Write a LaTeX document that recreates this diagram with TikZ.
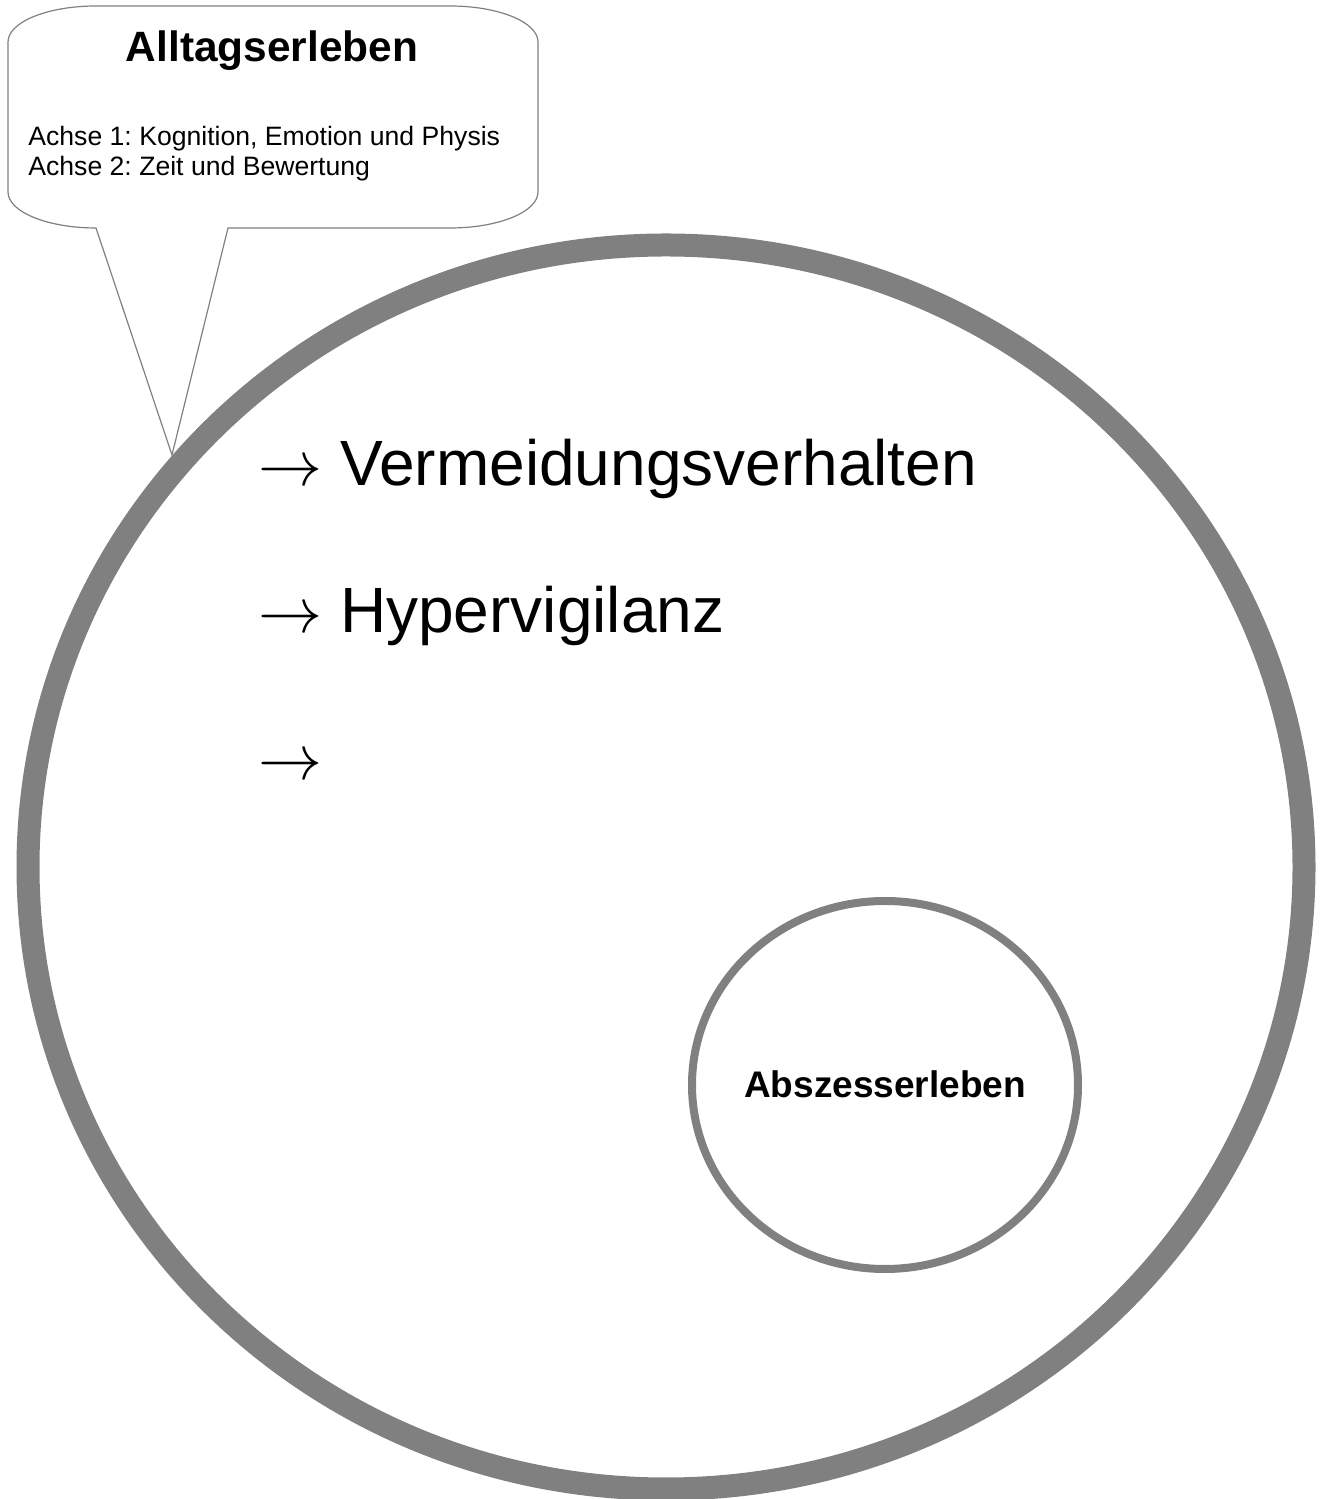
\RequirePackage{fix-cm}
\documentclass[tikz,border=0pt]{standalone}
\usepackage{fontspec}
\setmainfont{Liberation Sans}
\definecolor{ringgray}{HTML}{808080}
\frenchspacing

\begin{document}
\begin{tikzpicture}[x=0.5pt,y=0.5pt,
  bigtext/.style={inner sep=0pt,anchor=base west,font=\fontsize{32}{38}\selectfont},
  smalltext/.style={inner sep=0pt,anchor=base west,font=\fontsize{13.3}{16}\selectfont},
  boldtext/.style={inner sep=0pt,anchor=base,font=\bfseries}]

\useasboundingbox (0,0) rectangle (1322,1499);

% callout
\draw[ringgray,line width=0.6pt] (96,1493) -- (450,1493) arc[start angle=90,end angle=0,x radius=88,y radius=36]
 -- (538,1307) arc[start angle=0,end angle=-90,x radius=88,y radius=36]
 -- (228,1271) -- (172,1044) -- (96,1271) arc[start angle=270,end angle=180,x radius=88,y radius=36]
 -- (8,1457) arc[start angle=180,end angle=90,x radius=88,y radius=36] -- cycle;

\node[boldtext,font=\fontsize{21.2}{25}\selectfont\bfseries] (alltag) at (272,1437) {Alltagserleben};
\node[smalltext] (achse1) at (28,1353) {Achse 1: Kognition, Emotion und Physis};
\node[smalltext] (achse2) at (28,1323) {Achse 2: Zeit und Bewertung};

% rings
\draw[ringgray,line width=11.5pt] (666,632) ellipse [x radius=638,y radius=622];
\draw[ringgray,line width=4pt] (885,414) ellipse [x radius=193,y radius=184];

\node[bigtext] (vermeidung) at (258,1013) {$\rightarrow$ Vermeidungsverhalten};
\node[bigtext] (hyper) at (258,866) {$\rightarrow$ Hypervigilanz};
\node[bigtext] (leer) at (258,719) {$\rightarrow$};

\node[boldtext,font=\fontsize{18.5}{22}\selectfont\bfseries] (abszess) at (885,401) {Abszesserleben};

\end{tikzpicture}
\end{document}
